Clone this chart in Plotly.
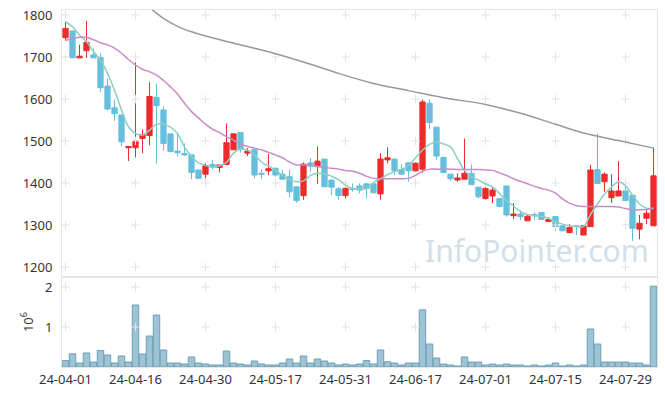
import plotly.graph_objects as go

dates = [
    "24-04-01","24-04-02","24-04-03","24-04-04","24-04-05","24-04-08","24-04-09","24-04-11","24-04-12","24-04-15",
    "24-04-16","24-04-17","24-04-18","24-04-19","24-04-22","24-04-23","24-04-24","24-04-25","24-04-26","24-04-29",
    "24-04-30","24-05-02","24-05-03","24-05-07","24-05-08","24-05-09","24-05-10","24-05-13","24-05-14","24-05-16",
    "24-05-17","24-05-20","24-05-21","24-05-22","24-05-23","24-05-24","24-05-27","24-05-28","24-05-29","24-05-30",
    "24-05-31","24-06-03","24-06-04","24-06-05","24-06-07","24-06-10","24-06-11","24-06-12","24-06-13","24-06-14",
    "24-06-17","24-06-18","24-06-19","24-06-20","24-06-21","24-06-24","24-06-25","24-06-26","24-06-27","24-06-28",
    "24-07-01","24-07-02","24-07-03","24-07-04","24-07-05","24-07-08","24-07-09","24-07-10","24-07-11","24-07-12",
    "24-07-15","24-07-16","24-07-17","24-07-18","24-07-19","24-07-22","24-07-23","24-07-24","24-07-25","24-07-26",
    "24-07-29","24-07-30","24-07-31","24-08-01","24-08-02",
]

opens = [1746,1762,1698,1715,1705,1699,1631,1579,1562,1484,
         1484,1506,1513,1604,1574,1517,1476,1470,1467,1431,
         1421,1444,1437,1444,1479,1520,1471,1480,1423,1429,
         1435,1421,1415,1391,1370,1448,1439,1457,1407,1386,
         1370,1387,1393,1398,1398,1374,1455,1457,1432,1448,
         1429,1433,1590,1533,1461,1421,1407,1409,1423,1390,
         1363,1369,1363,1393,1322,1326,1310,1325,1330,1308,
         1320,1298,1282,1298,1276,1296,1432,1403,1365,1369,
         1381,1371,1290,1316,1298]
highs = [1784,1762,1729,1786,1720,1709,1649,1599,1562,1487,
         1687,1528,1640,1637,1583,1517,1517,1494,1467,1431,
         1447,1455,1443,1542,1517,1520,1483,1480,1433,1469,
         1437,1431,1432,1391,1449,1459,1487,1457,1407,1391,
         1391,1399,1399,1399,1399,1471,1485,1457,1445,1448,
         1449,1599,1599,1533,1461,1421,1423,1506,1444,1390,
         1390,1390,1363,1393,1352,1335,1326,1330,1330,1318,
         1320,1298,1302,1299,1298,1443,1518,1425,1421,1452,
         1403,1371,1324,1340,1484]
lows = [1739,1698,1698,1698,1698,1616,1573,1548,1487,1452,
        1461,1471,1490,1445,1477,1473,1463,1465,1409,1411,
        1411,1433,1425,1444,1479,1472,1464,1411,1410,1419,
        1415,1408,1366,1353,1360,1427,1398,1391,1371,1360,
        1363,1379,1375,1363,1375,1360,1447,1419,1419,1403,
        1427,1425,1528,1455,1425,1405,1403,1409,1396,1363,
        1360,1352,1342,1320,1314,1312,1310,1312,1312,1308,
        1286,1286,1280,1276,1276,1296,1399,1379,1353,1369,
        1358,1262,1266,1302,1298]
closes = [1768,1698,1702,1735,1698,1627,1576,1565,1498,1487,
          1500,1515,1606,1584,1494,1475,1472,1467,1425,1411,
          1441,1439,1443,1496,1517,1480,1476,1419,1421,1434,
          1419,1409,1379,1358,1445,1440,1452,1391,1390,1370,
          1387,1385,1383,1387,1377,1457,1460,1429,1421,1429,
          1447,1593,1544,1464,1425,1410,1412,1423,1396,1367,
          1387,1383,1344,1324,1326,1320,1321,1322,1313,1313,
          1296,1286,1294,1296,1298,1431,1399,1421,1381,1381,
          1358,1292,1304,1328,1417]

volume_millions = [0.16,0.33,0.10,0.35,0.125,0.41,0.30,0.10,0.275,0.125,
                   1.55,0.325,0.775,1.30,0.425,0.10,0.10,0.075,0.25,0.10,
                   0.075,0.05,0.05,0.40,0.10,0.075,0.05,0.15,0.075,0.05,
                   0.05,0.10,0.20,0.10,0.275,0.10,0.20,0.15,0.10,0.05,
                   0.075,0.05,0.075,0.16,0.075,0.425,0.13,0.10,0.05,0.10,
                   0.10,1.43,0.575,0.225,0.075,0.05,0.025,0.25,0.125,0.125,
                   0.05,0.075,0.05,0.075,0.05,0.05,0.025,0.05,0.025,0.05,
                   0.10,0.025,0.05,0.025,0.05,0.95,0.575,0.125,0.125,0.125,
                   0.125,0.10,0.10,0.05,2.02]

ma5 = [1784,1772,1752,1737,1713,1693,1661,1621,1574,1534,
       1518,1514,1526,1540,1540,1533,1518,1486,1463,1448,
       1442,1437,1441,1449,1471,1481,1478,1467,1450,1440,
       1431,1418,1408,1403,1405,1418,1423,1422,1416,1408,
       1395,1387,1386,1387,1401,1410,1420,1427,1432,1441,
       1460,1478,1492,1497,1493,1486,1458,1430,1415,1407,
       1398,1391,1375,1357,1345,1332,1325,1322,1320,1316,
       1308,1302,1298,1297,1296,1325,1350,1373,1390,1403,
       1393,1371,1350,1340,1340]
ma20 = [1740,1743,1747,1747,1741,1734,1729,1721,1709,1694,
        1681,1671,1665,1657,1644,1629,1612,1590,1570,1555,
        1540,1528,1520,1510,1502,1493,1487,1483,1479,1473,
        1467,1460,1450,1443,1443,1443,1439,1437,1435,1433,
        1430,1428,1423,1416,1411,1410,1410,1410,1410,1411,
        1418,1428,1433,1433,1433,1433,1432,1432,1432,1432,
        1431,1430,1424,1418,1410,1404,1398,1392,1387,1383,
        1376,1362,1352,1346,1344,1344,1344,1344,1344,1343,
        1339,1336,1336,1337,1340]
long_ma_idx = [12,14,16,18,20,23,26,30,35,39,44,49,54,60,65,70,74,79,84]
long_ma = [1818,1792,1773,1760,1750,1737,1725,1708,1683,1661,1637,1620,1603,1587,1566,1540,1519,1501,1483]

price_ticks = [1200,1300,1400,1500,1600,1700,1800]
vol_ticks = [1,2]
x_ticks = dates[::10]

font = "Noto Sans"
grid_c = "#e2e2e2"
frame_c = "#e6e6e6"

fig = go.Figure()

# cross-shaped grid markers at tick intersections
gx, gy = [], []
for d in x_ticks:
    for v in price_ticks:
        gx.append(d); gy.append(v)
fig.add_trace(go.Scatter(x=gx, y=gy, mode="markers", xaxis="x", yaxis="y",
                         marker=dict(symbol="cross-thin", size=6, line=dict(color=grid_c, width=1)),
                         hoverinfo="skip", showlegend=False))
gx2, gy2 = [], []
for d in x_ticks:
    for v in vol_ticks:
        gx2.append(d); gy2.append(v)
fig.add_trace(go.Scatter(x=gx2, y=gy2, mode="markers", xaxis="x2", yaxis="y2",
                         marker=dict(symbol="cross-thin", size=6, line=dict(color=grid_c, width=1)),
                         hoverinfo="skip", showlegend=False))

fig.add_trace(go.Candlestick(
    x=dates, open=opens, high=highs, low=lows, close=closes,
    increasing=dict(line=dict(color="#ee2b2b", width=1), fillcolor="#ee2b2b"),
    decreasing=dict(line=dict(color="#66bfdc", width=1), fillcolor="#66bfdc"),
    whiskerwidth=0, xaxis="x", yaxis="y", showlegend=False))

fig.add_trace(go.Scatter(x=dates, y=ma5, mode="lines", line=dict(color="#8ccfc2", width=1.5, shape="spline"),
                         xaxis="x", yaxis="y", showlegend=False))
fig.add_trace(go.Scatter(x=dates, y=ma20, mode="lines", line=dict(color="#c98cc6", width=1.5, shape="spline"),
                         xaxis="x", yaxis="y", showlegend=False))
fig.add_trace(go.Scatter(x=[dates[i] for i in long_ma_idx], y=long_ma, mode="lines",
                         line=dict(color="#999999", width=1.5, shape="spline"),
                         xaxis="x", yaxis="y", showlegend=False))

fig.add_trace(go.Bar(x=dates, y=volume_millions, xaxis="x2", yaxis="y2",
                     marker=dict(color="#9dc3d4", line=dict(color="#6e9fb7", width=1)),
                     showlegend=False))

fig.add_annotation(text="InfoPointer.com", xref="paper", yref="paper", x=0.99, y=0.262,
                   xanchor="right", yanchor="bottom", showarrow=False,
                   font=dict(family=font, size=30, color="#d0dfe9"))

axis_common = dict(showgrid=False, zeroline=False, showline=True, mirror=True,
                   linecolor=frame_c, linewidth=1, automargin=False, ticklabeloverflow="allow",
                   tickfont=dict(family=font, size=13, color="#333333"))

fig.update_layout(
    width=665, height=396,
    margin=dict(l=62, r=8, t=10, b=29),
    paper_bgcolor="white", plot_bgcolor="white",
    showlegend=False, bargap=0.08, boxgap=0.25, boxgroupgap=0,
    xaxis=dict(type="category", categoryorder="array", categoryarray=dates,
               domain=[0, 1], anchor="y", showticklabels=False,
               rangeslider=dict(visible=False), range=[-0.5, len(dates) - 0.5], **axis_common),
    yaxis=dict(domain=[0.252, 1], anchor="x", range=[1176, 1812], tickvals=price_ticks,
               ticklabelstandoff=6, **axis_common),
    xaxis2=dict(type="category", categoryorder="array", categoryarray=dates,
                domain=[0, 1], anchor="y2", matches="x", tickvals=x_ticks, ticktext=x_ticks,
                tickangle=0, range=[-0.5, len(dates) - 0.5], **axis_common),
    yaxis2=dict(domain=[0, 0.252], anchor="x2", range=[0, 2.25], tickvals=vol_ticks,
                ticklabelstandoff=6,
                title=dict(text="10<sup>6</sup>", font=dict(family=font, size=13, color="#333333"), standoff=8),
                **axis_common),
)

# remove the browser's default page margin so the figure fills the window exactly
fig.write_html("out.html", config={"displayModeBar": False},
               post_script="document.body.style.margin='0px';document.body.style.overflow='hidden';")
